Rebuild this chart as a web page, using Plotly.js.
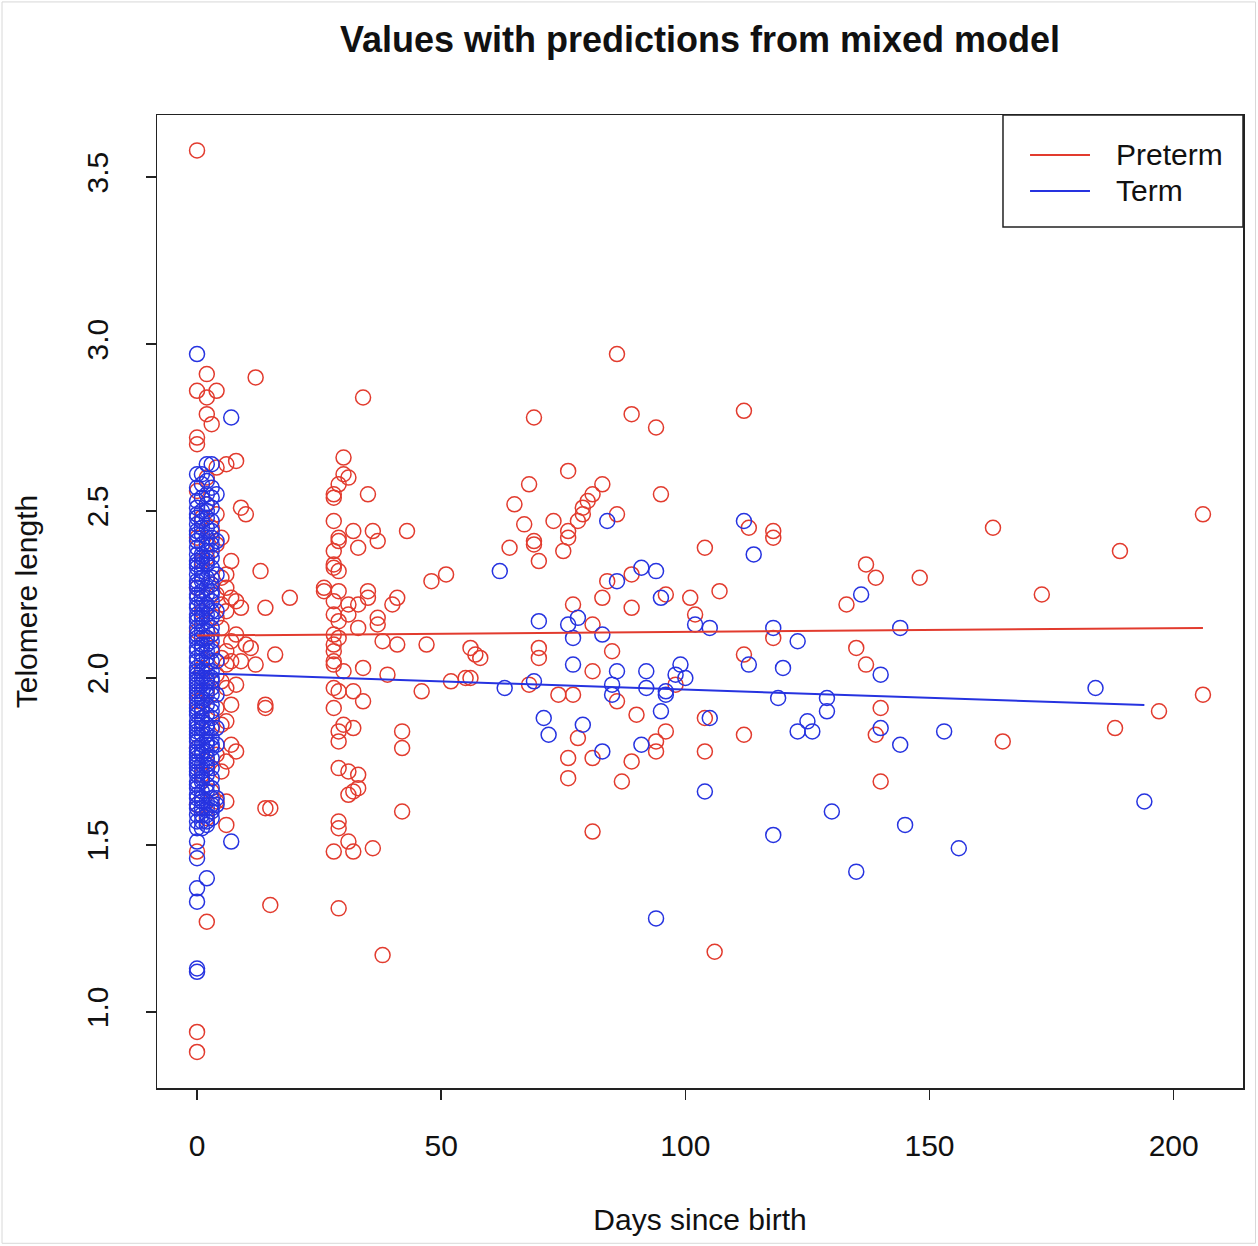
<!DOCTYPE html>
<html><head><meta charset="utf-8">
<script src="https://cdn.plot.ly/plotly-3.0.1.min.js"></script>
<style>html,body{margin:0;padding:0;background:#fff}#chart{width:1258px;height:1246px}</style>
</head><body><div id="chart"></div>
<script>
// ---- data ----
const pretermDays = [
  0,0,0,0,0,0,0,0,0,0,0,0,0,0,
  1,1,1,1,1,1,2,2,2,2,2,2,2,2,2,2,2,
  3,3,3,3,3,3,4,4,4,4,4,4,4,4,4,4,
  5,5,5,5,5,5,5,5,6,6,6,6,6,6,6,6,6,6,6,
  7,7,7,7,7,7,8,8,8,8,8,9,9,9,
  10,10,11,12,12,13,14,14,14,14,15,15,16,19,
  34,30,30,31,29,28,28,35,28,32,
  36,37,43,33,29,29,28,28,28,29,
  26,26,48,51,28,29,31,33,35,35,
  41,40,28,29,31,37,37,33,28,29,
  38,41,47,28,56,28,28,28,34,30,
  39,52,55,46,28,29,32,34,28,30,
  29,32,29,42,42,29,31,33,33,31,
  32,42,29,29,31,32,36,28,29,38,
  86,69,89,94,76,68,83,81,80,79,
  79,78,95,65,67,73,86,76,76,69,
  69,70,64,75,104,84,89,107,83,96,
  77,89,101,102,81,57,58,70,70,85,
  81,56,68,86,98,74,77,90,104,78,
  94,96,94,104,76,81,89,76,87,81,
  106,
  112,113,118,118,137,139,148,133,118,112,
  135,137,140,112,139,140,163,206,189,173,
  206,197,188,165
];
const pretermTL = [
  3.58,2.86,2.72,2.70,2.56,2.42,2.27,2.14,1.93,1.79,1.62,1.48,0.94,0.88,
  2.48,2.35,2.20,2.03,1.88,1.71,2.91,2.84,2.79,2.60,2.52,2.36,2.12,1.96,1.75,1.58,1.27,
  2.76,2.45,2.28,2.09,1.85,1.66,2.86,2.63,2.49,2.40,2.25,2.18,2.01,1.91,1.77,1.63,
  2.42,2.30,2.22,2.15,2.06,1.99,1.86,1.72,2.64,2.31,2.27,2.20,2.08,2.04,1.97,1.87,1.75,1.63,1.56,
  2.35,2.24,2.11,2.05,1.92,1.80,2.65,2.23,2.13,1.98,1.78,2.51,2.21,2.05,
  2.49,2.10,2.09,2.90,2.04,2.32,2.21,1.92,1.91,1.61,1.61,1.32,2.07,2.24,
  2.84,2.66,2.61,2.60,2.58,2.55,2.54,2.55,2.47,2.44,
  2.44,2.41,2.44,2.39,2.42,2.41,2.38,2.34,2.33,2.32,
  2.27,2.26,2.29,2.31,2.23,2.26,2.22,2.22,2.26,2.24,
  2.24,2.22,2.19,2.17,2.19,2.18,2.16,2.15,2.13,2.12,
  2.11,2.10,2.10,2.10,2.09,2.08,2.05,2.04,2.03,2.02,
  2.01,1.99,2.00,1.96,1.97,1.96,1.96,1.93,1.91,1.86,
  1.84,1.85,1.81,1.84,1.79,1.73,1.72,1.71,1.67,1.65,
  1.66,1.60,1.57,1.55,1.51,1.48,1.49,1.48,1.31,1.17,
  2.97,2.78,2.79,2.75,2.62,2.58,2.58,2.55,2.53,2.51,
  2.49,2.47,2.55,2.52,2.46,2.47,2.49,2.44,2.42,2.41,
  2.40,2.35,2.39,2.38,2.39,2.29,2.31,2.26,2.24,2.25,
  2.22,2.21,2.24,2.19,2.16,2.07,2.06,2.09,2.06,2.08,
  2.02,2.00,1.98,1.93,1.98,1.95,1.95,1.89,1.88,1.82,
  1.81,1.84,1.78,1.78,1.76,1.76,1.75,1.70,1.69,1.54,
  1.18,
  2.80,2.45,2.44,2.42,2.34,2.30,2.30,2.22,2.12,2.07,
  2.09,2.04,1.91,1.83,1.83,1.69,2.45,2.49,2.38,2.25,
  1.95,1.90,1.85,1.81
];
const termDays = [
  0,0,0,0,0,0,0,0,0,0,0,0,0,0,0,0,0,0,0,0,
  0,0,0,0,0,0,0,0,0,0,0,0,0,0,0,0,0,0,0,0,
  0,0,0,0,0,0,0,0,0,0,0,
  0,0,0,0,0,0,0,0,0,0,0,0,0,0,0,0,0,0,0,0,0,0,0,0,0,0,0,0,0,0,
  1,1,1,1,1,1,1,1,1,1,1,1,1,1,1,1,1,1,1,1,1,1,1,1,1,1,1,
  1,1,1,1,1,1,1,1,1,1,1,1,1,1,1,1,1,1,1,1,1,1,1,1,1,
  2,2,2,2,2,2,2,2,2,2,2,2,2,2,2,2,2,2,2,2,2,2,2,2,2,2,
  2,2,2,2,2,2,2,2,2,2,2,2,2,2,2,2,2,2,2,2,2,2,2,2,
  3,3,3,3,3,3,3,3,3,3,3,3,3,3,3,3,3,3,3,3,3,3,3,3,
  3,3,3,3,3,3,3,3,3,3,3,3,3,3,3,3,3,3,3,3,
  4,4,4,4,4,4,4,4,4,4,
  7,7,
  62,84,86,91,94,95,70,76,78,102,
  105,77,83,77,86,92,99,98,100,69,
  63,85,85,92,96,96,95,105,71,72,
  79,91,83,104,94,112,114,136,118,144,
  123,113,120,140,119,129,129,125,123,126,
  140,144,153,130,145,118,156,135,184,194
];
const termTL = [
  2.97,2.61,2.53,2.49,2.46,2.41,2.39,2.35,2.33,2.29,2.27,2.24,2.21,2.19,2.17,2.13,2.11,2.08,2.05,2.03,
  2.01,1.99,1.97,1.94,1.91,1.89,1.86,1.83,1.81,1.79,1.76,1.73,1.71,1.68,1.65,1.62,1.59,1.57,1.51,1.46,
  1.37,1.33,1.13,1.12,2.44,2.31,2.15,1.96,1.84,1.75,1.69,
  2.57,2.51,2.43,2.37,2.28,2.22,2.18,2.12,2.09,2.06,2.00,1.98,1.95,1.92,1.87,1.85,1.82,1.78,1.74,1.72,1.67,1.64,1.61,1.55,2.48,2.34,2.25,2.02,1.90,1.77,
  2.58,2.50,2.43,2.37,2.32,2.26,2.22,2.16,2.12,2.07,2.02,1.98,1.93,1.90,1.85,1.80,1.77,1.72,1.66,1.61,1.57,2.47,2.29,2.09,1.87,1.64,1.55,
  2.54,2.45,2.40,2.34,2.30,2.24,2.19,2.14,2.10,2.05,2.00,1.96,1.91,1.88,1.83,1.78,1.74,1.69,1.63,1.59,2.61,2.36,2.18,1.94,1.70,
  2.64,2.55,2.48,2.42,2.38,2.30,2.25,2.19,2.14,2.10,2.04,2.00,1.95,1.89,1.83,1.78,1.74,1.68,1.63,1.59,1.40,2.34,2.06,1.81,1.56,2.59,
  2.52,2.45,2.40,2.35,2.27,2.22,2.17,2.12,2.08,2.02,1.97,1.92,1.86,1.80,1.76,1.71,1.66,1.61,1.57,2.50,2.21,1.99,1.85,1.73,
  2.57,2.51,2.44,2.40,2.33,2.28,2.23,2.18,2.11,2.05,1.99,1.92,1.88,1.82,1.76,1.70,1.64,1.60,2.36,2.15,1.97,1.79,2.64,1.61,
  2.47,2.42,2.38,2.30,2.25,2.20,2.13,2.08,2.02,1.95,1.90,1.85,1.80,1.73,1.67,1.62,2.54,2.26,2.00,1.58,
  2.55,2.41,2.31,2.20,2.05,1.95,1.85,1.80,1.64,1.62,
  2.78,1.51,
  2.32,2.47,2.29,2.33,2.32,2.24,2.17,2.16,2.18,2.16,
  2.15,2.12,2.13,2.04,2.02,2.02,2.04,2.01,2.00,1.99,
  1.97,1.98,1.95,1.97,1.96,1.95,1.90,1.88,1.88,1.83,
  1.86,1.80,1.78,1.66,1.28,2.47,2.37,2.25,2.15,2.15,
  2.11,2.04,2.03,2.01,1.94,1.94,1.90,1.87,1.84,1.84,
  1.85,1.80,1.84,1.60,1.56,1.53,1.49,1.42,1.97,1.63
];
// predictions from the mixed model (line end points)
const pretermFitDays = [0, 206];
const pretermFitTL = [2.127, 2.150];
const termFitDays = [-1, 194];
const termFitTL = [2.015, 1.919];
const seriesNames = ['Preterm', 'Term'];
const xTickVals = [0, 50, 100, 150, 200];
const yTickVals = [1.0, 1.5, 2.0, 2.5, 3.0, 3.5];
const chartTitle = 'Values with predictions from mixed model';
const xTitle = 'Days since birth';
const yTitle = 'Telomere length';

// ---- styling ----
const RED = '#e23b2e';
const BLUE = '#2633e0';
const FONT = 'Liberation Sans, Arial, Helvetica, sans-serif';
const INK = '#111';

const traces = [
  {x: pretermDays, y: pretermTL, type: 'scatter', mode: 'markers', name: seriesNames[0], showlegend: false,
   marker: {symbol: 'circle-open', size: 15, color: RED, line: {width: 1.5, color: RED}}},
  {x: termDays, y: termTL, type: 'scatter', mode: 'markers', name: seriesNames[1], showlegend: false,
   marker: {symbol: 'circle-open', size: 15, color: BLUE, line: {width: 1.5, color: BLUE}}},
  {x: pretermFitDays, y: pretermFitTL, type: 'scatter', mode: 'lines', name: seriesNames[0], showlegend: false,
   line: {color: RED, width: 2}},
  {x: termFitDays, y: termFitTL, type: 'scatter', mode: 'lines', name: seriesNames[1], showlegend: false,
   line: {color: BLUE, width: 2}}
];

const axisCommon = {
  showgrid: false, zeroline: false, showline: true, mirror: true,
  linecolor: '#222', linewidth: 1.5, ticks: 'outside', ticklen: 10, tickwidth: 1.5, tickcolor: '#222',
  tickfont: {family: FONT, size: 30, color: INK}, automargin: false
};

// legend box drawn in paper coordinates (R-style legend with long line keys)
const legendColors = [RED, BLUE];
const legendRowsY = [0.9589, 0.9219];
const legendShapes = [
  {type: 'rect', xref: 'paper', yref: 'paper', x0: 0.7790, x1: 1.0, y0: 0.8849, y1: 1.0,
   line: {color: '#222', width: 1.5}, fillcolor: '#fff', layer: 'above'}
].concat(seriesNames.map((n, i) => ({
  type: 'line', xref: 'paper', yref: 'paper', x0: 0.8039, x1: 0.8591, y0: legendRowsY[i], y1: legendRowsY[i],
  line: {color: legendColors[i], width: 2}, layer: 'above'
})));
const legendAnnotations = seriesNames.map((n, i) => ({
  xref: 'paper', yref: 'paper', x: 0.8815, y: legendRowsY[i], xanchor: 'left', yanchor: 'middle',
  text: n, showarrow: false, font: {family: FONT, size: 30, color: INK}
}));

const layout = {
  width: 1258, height: 1246,
  margin: {l: 157, r: 15, t: 115, b: 158},
  paper_bgcolor: '#fff', plot_bgcolor: '#fff',
  font: {family: FONT, color: INK},
  title: {text: '<b>' + chartTitle + '</b>', font: {family: FONT, size: 36, color: INK},
          xref: 'paper', x: 0.5, xanchor: 'center', yref: 'container', y: 0.968, yanchor: 'middle'},
  xaxis: Object.assign({}, axisCommon, {
    range: [-8.2, 214.2], tickvals: xTickVals, ticktext: xTickVals.map(String), ticklabelstandoff: 20,
    title: {text: xTitle, font: {family: FONT, size: 30, color: INK}, standoff: 48}
  }),
  yaxis: Object.assign({}, axisCommon, {
    range: [0.772, 3.686], tickvals: yTickVals, ticktext: yTickVals.map(v => v.toFixed(1)), tickangle: -90,
    ticklabelstandoff: 26,
    title: {text: yTitle, font: {family: FONT, size: 30, color: INK}, standoff: 34}
  }),
  shapes: [
    {type: 'rect', xref: 'paper', yref: 'paper', x0: -0.1427, x1: 1.0115, y0: -0.1596, y1: 1.1162,
     line: {color: '#d8d8d8', width: 1}, layer: 'below'}
  ].concat(legendShapes),
  annotations: legendAnnotations,
  showlegend: false
};

Plotly.newPlot('chart', traces, layout, {displayModeBar: false, staticPlot: true});
</script>
</body></html>
